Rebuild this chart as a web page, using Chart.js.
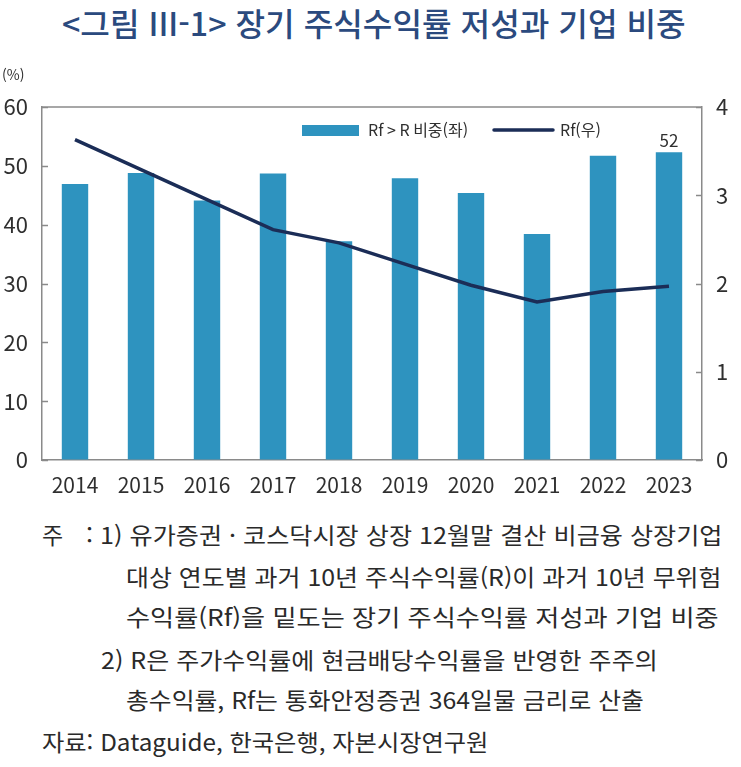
<!DOCTYPE html>
<html lang="ko">
<head>
<meta charset="utf-8">
<script src="https://cdn.jsdelivr.net/npm/chart.js@4.4.1/dist/chart.umd.min.js"></script>
<style>
  html, body { margin: 0; padding: 0; background: #fff; }
  body { width: 741px; height: 767px; position: relative; overflow: hidden;
         font-family: "Noto Sans CJK KR", "Noto Sans", sans-serif; }
  #title { position: absolute; left: 62px; top: 2px; font-size: 32px; font-weight: 500;
           color: #2b4a7e; white-space: nowrap; line-height: 40px; transform-origin: 0 50%; }
  #wrap { position: absolute; left: 0; top: 0; width: 741px; height: 510px; }
  .note { position: absolute; white-space: nowrap; font-size: 23px; color: #2a2a2a;
          line-height: 30px; transform-origin: 0 50%; }
</style>
</head>
<body>
<div id="title" data-w="624">&lt;그림 III-1&gt; 장기 주식수익률 저성과 기업 비중</div>
<div id="wrap"><canvas id="chart" width="741" height="510"></canvas></div>

<div class="note" style="left:42px; top:519px;">주</div>
<div class="note" data-w="636" style="left:86px; top:519px;">: 1) 유가증권 · 코스닥시장 상장 12월말 결산 비금융 상장기업</div>
<div class="note" data-w="596" style="left:126px; top:561px;">대상 연도별 과거 10년 주식수익률(R)이 과거 10년 무위험</div>
<div class="note" data-w="593" style="left:126px; top:601px;">수익률(Rf)을 밑도는 장기 주식수익률 저성과 기업 비중</div>
<div class="note" data-w="557" style="left:101px; top:644px;">2) R은 주가수익률에 현금배당수익률을 반영한 주주의</div>
<div class="note" data-w="518" style="left:126px; top:684px;">총수익률, Rf는 통화안정증권 364일물 금리로 산출</div>
<div class="note" data-w="446" style="left:42px; top:726px;">자료: Dataguide, 한국은행, 자본시장연구원</div>

<script>
// 연도별 Rf > R 기업 비중(%, 좌축)과 Rf(%, 우축)
const years = ['2014', '2015', '2016', '2017', '2018', '2019', '2020', '2021', '2022', '2023'];
const share = [46.9, 48.8, 44.1, 48.7, 37.2, 47.9, 45.4, 38.4, 51.7, 52.3];
const rf = [3.63, 3.29, 2.95, 2.61, 2.46, 2.22, 1.98, 1.79, 1.91, 1.97];
const leftTicks = [0, 10, 20, 30, 40, 50, 60];
const rightTicks = [0, 1, 2, 3, 4];

const FONT = "'Noto Sans CJK KR', 'Noto Sans', sans-serif";
const BAR = '#2e93bf';
const LINE = '#1b2d57';
const AXIS = '#8a8a8a';
const TEXT = '#2f2f2f';

// stretch text lines to the widths of the original
document.querySelectorAll('[data-w]').forEach(el => {
  const w = +el.dataset.w;
  el.style.transform = 'scaleX(' + (w / el.offsetWidth) + ')';
});

const extras = {
  id: 'extras',
  afterDatasetsDraw(chart) {
    const { ctx, chartArea: a, scales } = chart;
    ctx.save();
    // top of the frame + inward ticks
    ctx.strokeStyle = AXIS;
    ctx.lineWidth = 1.5;
    ctx.beginPath();
    ctx.moveTo(a.left, a.top);
    ctx.lineTo(a.right, a.top);
    scales.y.ticks.forEach(t => {
      const py = Math.round(scales.y.getPixelForValue(t.value)) + 0.5;
      ctx.moveTo(a.left, py);
      ctx.lineTo(a.left + 6, py);
    });
    scales.y1.ticks.forEach(t => {
      const py = Math.round(scales.y1.getPixelForValue(t.value)) + 0.5;
      ctx.moveTo(a.right, py);
      ctx.lineTo(a.right - 6, py);
    });
    ctx.stroke();

    // value on the last bar
    const meta = chart.getDatasetMeta(0);
    const last = meta.data[meta.data.length - 1];
    ctx.fillStyle = TEXT;
    ctx.font = '17px ' + FONT;
    ctx.textAlign = 'center';
    ctx.textBaseline = 'bottom';
    ctx.fillText(String(Math.round(share[share.length - 1])), last.x, last.y - 3);

    // legend
    const lx = a.left + 260, ly = a.top + 23;
    ctx.fillStyle = BAR;
    ctx.fillRect(lx, ly - 5, 57, 11);
    ctx.fillStyle = TEXT;
    ctx.font = '16px ' + FONT;
    ctx.textAlign = 'left';
    ctx.textBaseline = 'middle';
    ctx.fillText(chart.data.datasets[0].label, lx + 66, ly);
    ctx.strokeStyle = LINE;
    ctx.lineWidth = 3.5;
    ctx.lineCap = 'round';
    ctx.beginPath();
    ctx.moveTo(lx + 192, ly);
    ctx.lineTo(lx + 251, ly);
    ctx.stroke();
    ctx.fillText(chart.data.datasets[1].label, lx + 258, ly);

    // unit
    ctx.font = '14px ' + FONT;
    ctx.fillText('(%)', 2, 75);
    ctx.restore();
  }
};

new Chart(document.getElementById('chart'), {
  type: 'bar',
  data: {
    labels: years,
    datasets: [{
      label: 'Rf > R 비중(좌)',
      data: share,
      backgroundColor: BAR,
      categoryPercentage: 1,
      barPercentage: 0.4,
      yAxisID: 'y',
      order: 1
    }, {
      type: 'line',
      label: 'Rf(우)',
      data: rf,
      borderColor: LINE,
      borderWidth: 3.5,
      tension: 0,
      pointRadius: 0,
      fill: false,
      yAxisID: 'y1',
      order: 0
    }]
  },
  options: {
    responsive: false,
    animation: false,
    layout: { padding: { top: 107, left: 0, right: 0, bottom: 0 } },
    plugins: {
      legend: { display: false },
      tooltip: { enabled: false }
    },
    scales: {
      x: {
        grid: { drawOnChartArea: false, drawTicks: false },
        border: { color: AXIS, width: 1.5 },
        ticks: { color: TEXT, font: { family: FONT, size: 21 }, padding: 12 },
        afterFit(s) { s.height = 50; }
      },
      y: {
        position: 'left',
        min: 0, max: 60,
        grid: { drawOnChartArea: false, drawTicks: false },
        border: { color: AXIS, width: 1.5 },
        afterBuildTicks(s) { s.ticks = leftTicks.map(v => ({ value: v })); },
        ticks: { color: TEXT, font: { family: FONT, size: 22 }, padding: 14 },
        afterFit(s) { s.width = 42; }
      },
      y1: {
        position: 'right',
        min: 0, max: 4,
        grid: { drawOnChartArea: false, drawTicks: false },
        border: { color: AXIS, width: 1.5 },
        afterBuildTicks(s) { s.ticks = rightTicks.map(v => ({ value: v })); },
        ticks: { color: TEXT, font: { family: FONT, size: 22 }, padding: 14 },
        afterFit(s) { s.width = 39; }
      }
    }
  },
  plugins: [extras]
});
</script>
</body>
</html>
